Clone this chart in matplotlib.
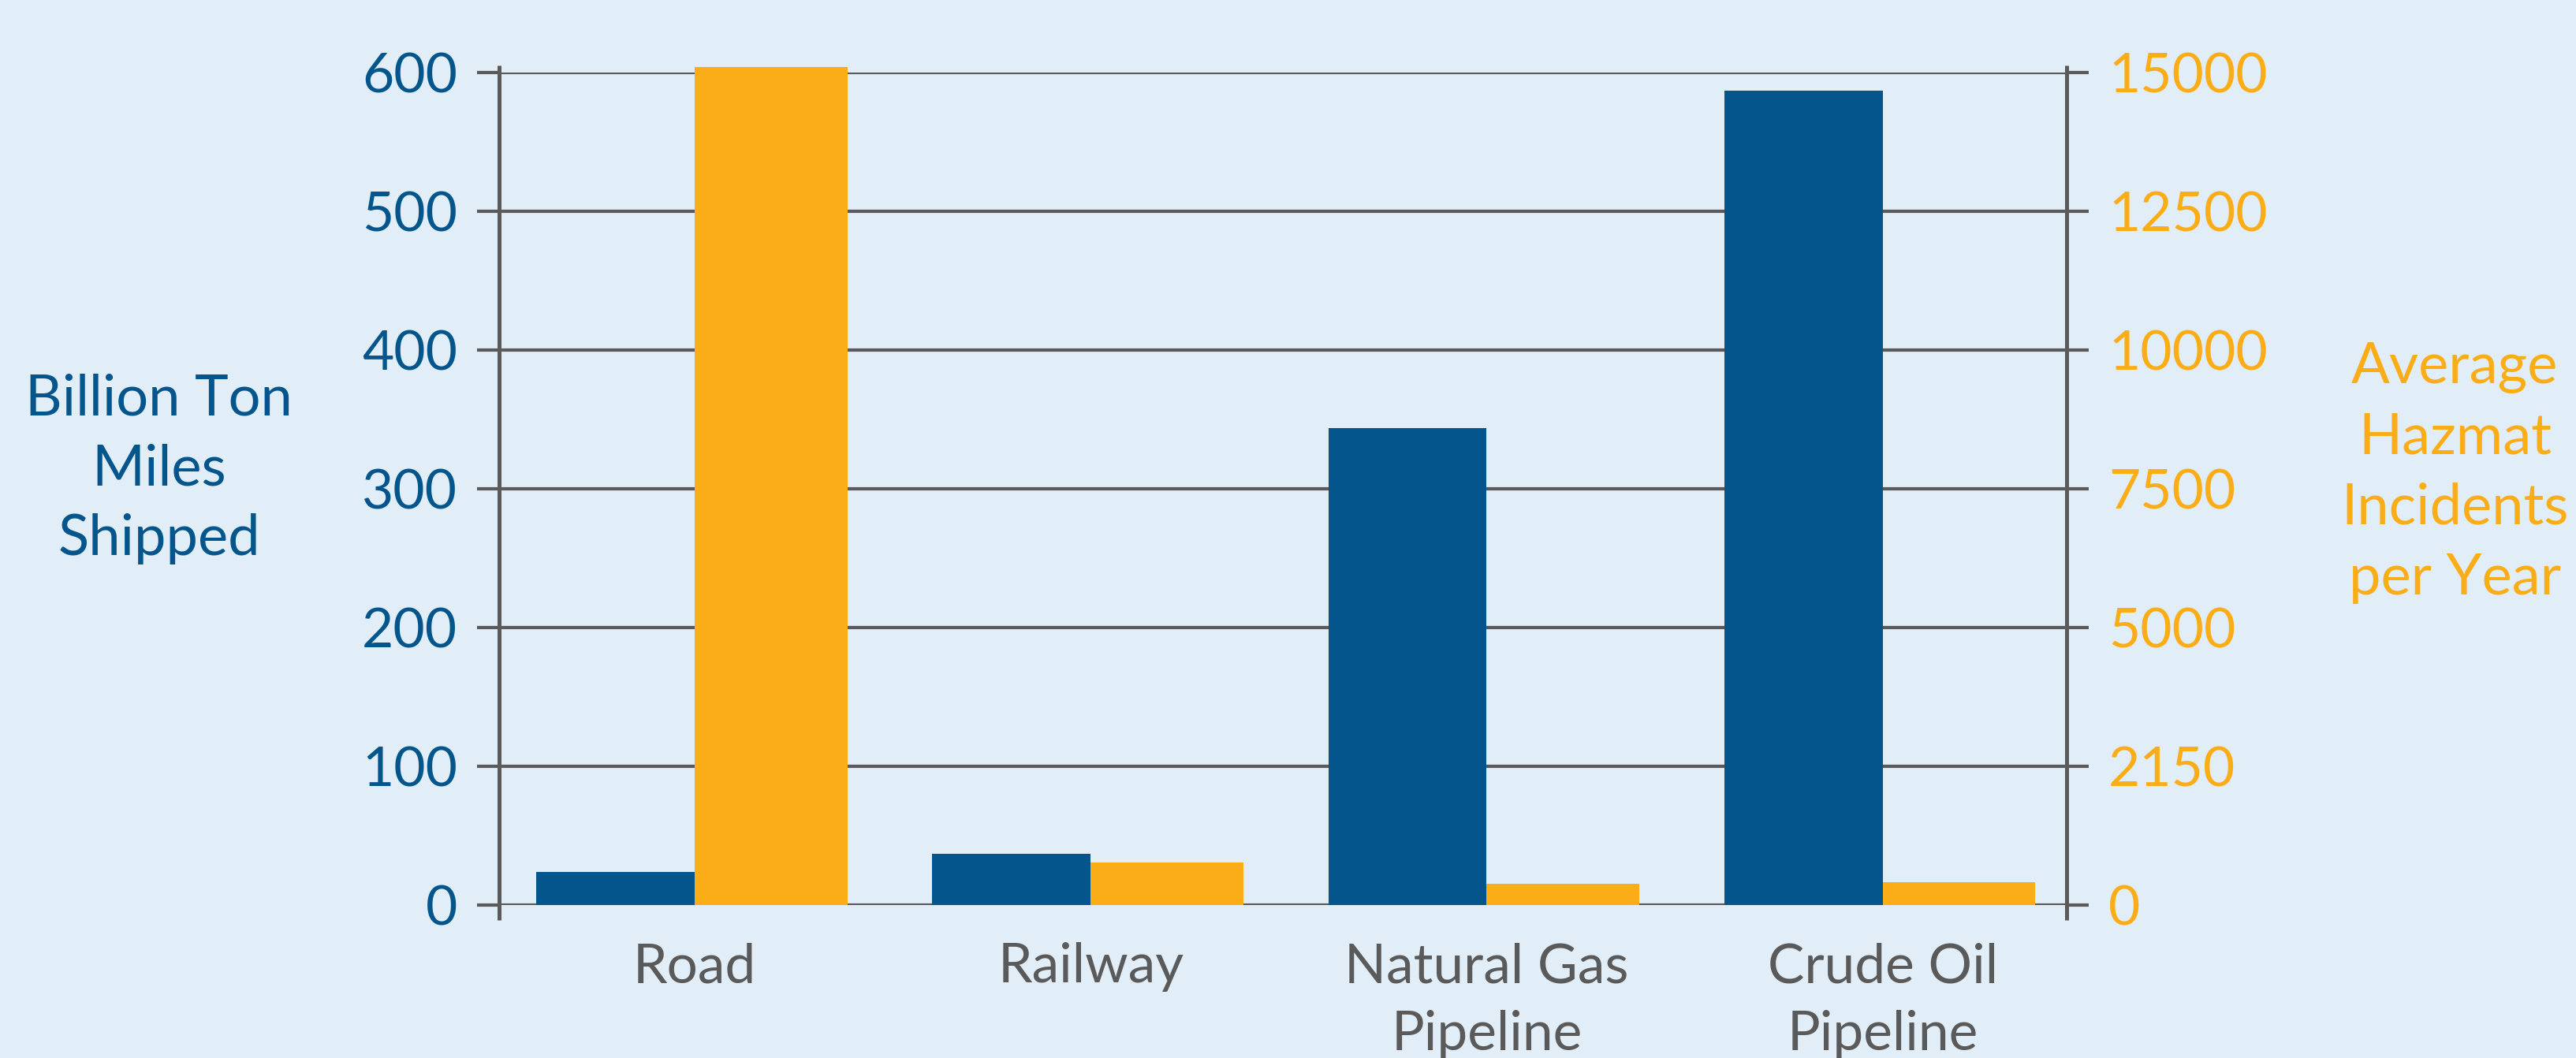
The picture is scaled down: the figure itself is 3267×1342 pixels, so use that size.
import matplotlib
matplotlib.use("Agg")
import matplotlib.pyplot as plt
import numpy as np

categories = ["Road", "Railway", "Natural Gas\nPipeline", "Crude Oil\nPipeline"]
ton_miles = [24, 37, 344, 587]          # billion ton miles shipped
incidents = [15100, 770, 385, 412]      # average hazmat incidents per year
left_ticks = [0, 100, 200, 300, 400, 500, 600]
right_ticks = [0, 2500, 5000, 7500, 10000, 12500, 15000]
right_tick_labels = ["0", "2150", "5000", "7500", "10000", "12500", "15000"]

BLUE = "#03558c"
ORANGE = "#fbad18"
GRAY = "#5a5a5a"
BG = "#e1edf7"

plt.rcParams['font.family'] = ['Lato', 'DejaVu Sans']

fig = plt.figure(figsize=(32.67, 13.42), dpi=100, facecolor=BG)
ax = fig.add_axes([0.1938, 0.1446, 0.8023 - 0.1938, 0.9314 - 0.1446])
ax.set_facecolor("none")
ax2 = ax.twinx()

x = np.arange(len(categories))
ax.bar(x, ton_miles, width=-0.40, align='edge', color=BLUE, zorder=3, clip_on=False)
ax2.bar(x, incidents, width=0.385, align='edge', color=ORANGE, zorder=3, clip_on=False)

ax.set_xlim(-0.494, 3.465)
ax.set_ylim(0, 600)
ax2.set_ylim(0, 15000)

ax.set_yticks(left_ticks)
ax2.set_yticks(right_ticks, right_tick_labels)

for s in ax.spines.values():
    s.set_visible(False)
for s in ax2.spines.values():
    s.set_visible(False)

ax.set_axisbelow(True)
ax.yaxis.grid(True, color=GRAY, linewidth=3.0)
ax.xaxis.grid(False)
ax2.grid(False)

ax.tick_params(axis='y', direction='out', length=20, width=3.0, color=GRAY,
               labelcolor=BLUE, labelsize=50, pad=18)
ax2.tick_params(axis='y', direction='out', length=20, width=3.0, color=GRAY,
                labelcolor=ORANGE, labelsize=50, pad=18)
ax.set_xticks(x, categories)
ax.tick_params(axis='x', length=0, labelcolor=GRAY, labelsize=50, pad=34)
for lbl in ax.get_xticklabels():
    lbl.set_multialignment('center')
    lbl.set_linespacing(1.45)

# vertical axis lines extending slightly past the plot area
for xa in (0, 1):
    ax.plot([xa, xa], [-0.018, 1.009], transform=ax.transAxes, color=GRAY,
            linewidth=3.6, clip_on=False, zorder=5, solid_capstyle='butt')

fig.text(0.0618, 0.557, "Billion Ton\nMiles\nShipped", color=BLUE, fontsize=52,
         ha='center', va='center', multialignment='center', linespacing=1.45)
fig.text(0.953, 0.553, "Average\nHazmat\nIncidents\nper Year", color=ORANGE,
         fontsize=52, ha='center', va='center', multialignment='center',
         linespacing=1.45)

fig.savefig("out.png", dpi=100, facecolor=BG)
